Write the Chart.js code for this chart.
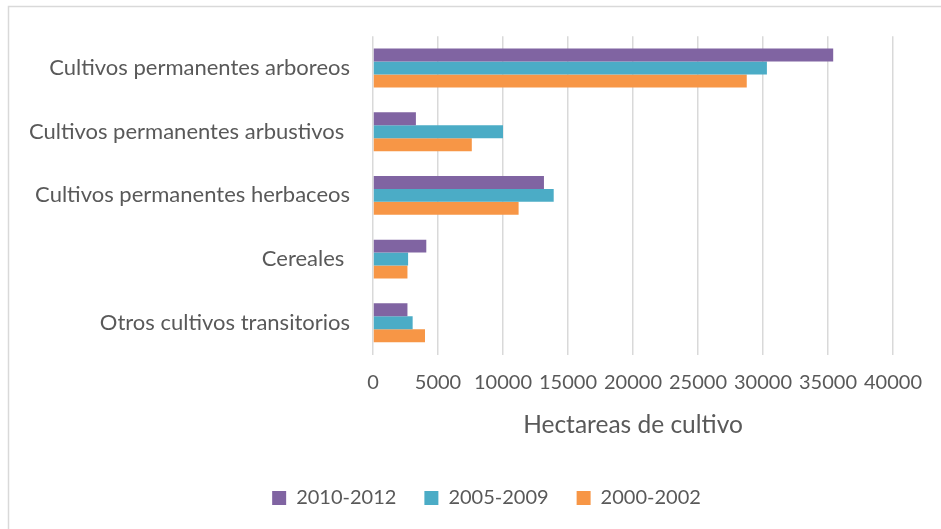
<!DOCTYPE html>
<html><head><meta charset="utf-8">
<script src="https://cdn.jsdelivr.net/npm/chart.js@4"></script>
<style>html,body{margin:0;padding:0;background:#fff}#wrap{position:relative;width:941px;height:529px}</style>
</head><body><div id="wrap"><canvas id="c" width="941" height="529"></canvas></div>
<script>
const categories = [
  'Cultivos permanentes arboreos',
  'Cultivos permanentes arbustivos ',
  'Cultivos permanentes herbaceos',
  'Cereales ',
  'Otros cultivos transitorios'
];
const seriesNames = ['2010-2012', '2005-2009', '2000-2002'];
const values2010 = [35400, 3300, 13150, 4100, 2650];
const values2005 = [30300, 10000, 13900, 2700, 3050];
const values2000 = [28750, 7600, 11200, 2650, 4000];
const xTickValues = [0, 5000, 10000, 15000, 20000, 25000, 30000, 35000, 40000];
const axisTitle = 'Hectareas de cultivo';

const FONT = 'Lato';
const TXT = '#595959';

const frame = {
  id: 'frame',
  beforeDraw(chart) {
    const ctx = chart.ctx;
    ctx.save();
    ctx.fillStyle = '#fff';
    ctx.fillRect(0, 0, chart.width, chart.height);
    ctx.strokeStyle = '#d9d9d9';
    ctx.lineWidth = 1.5;
    ctx.beginPath();
    ctx.moveTo(8.5, chart.height);
    ctx.lineTo(8.5, 6.5);
    ctx.lineTo(chart.width, 6.5);
    ctx.stroke();
    ctx.restore();
  }
};

const legendShift = {
  id: 'legendShift',
  afterLayout(chart) {
    const lg = chart.legend;
    if (lg) { lg.left += 40; lg.right += 40; }
  }
};

new Chart(document.getElementById('c'), {
  type: 'bar',
  data: {
    labels: categories,
    datasets: [
      { label: seriesNames[0], data: values2010, backgroundColor: '#8064A2' },
      { label: seriesNames[1], data: values2005, backgroundColor: '#4BACC6' },
      { label: seriesNames[2], data: values2000, backgroundColor: '#F79646' }
    ]
  },
  options: {
    indexAxis: 'y',
    responsive: false,
    animation: false,
    devicePixelRatio: 1,
    datasets: { bar: { categoryPercentage: 0.61, barPercentage: 1, borderWidth: 0 } },
    layout: { padding: { top: 36, right: 48, bottom: 11, left: 0 } },
    scales: {
      x: {
        min: 0, max: 40000,
        afterBuildTicks(scale) { scale.ticks = xTickValues.map(v => ({ value: v })); },
        grid: { color: '#d9d9d9', lineWidth: 1.5, drawTicks: false, tickLength: 0 },
        border: { display: false },
        ticks: { padding: 16, color: TXT, font: { family: FONT, size: 20 }, maxRotation: 0, autoSkip: false,
                 callback: (v) => String(v) },
        title: { display: true, text: axisTitle, color: TXT, font: { family: FONT, size: 24.5 }, padding: { top: 0, bottom: 20 } }
      },
      y: {
        grid: { display: false, drawTicks: false },
        border: { display: false },
        ticks: { padding: 23, color: TXT, font: { family: FONT, size: 22 } },
        afterFit(scale) { scale.width = 373; }
      }
    },
    plugins: {
      legend: {
        position: 'bottom',
        labels: { boxWidth: 14, boxHeight: 14, padding: 28, color: TXT, font: { family: FONT, size: 20 } }
      },
      tooltip: { enabled: false }
    }
  },
  plugins: [frame, legendShift]
});
</script>
</body></html>
